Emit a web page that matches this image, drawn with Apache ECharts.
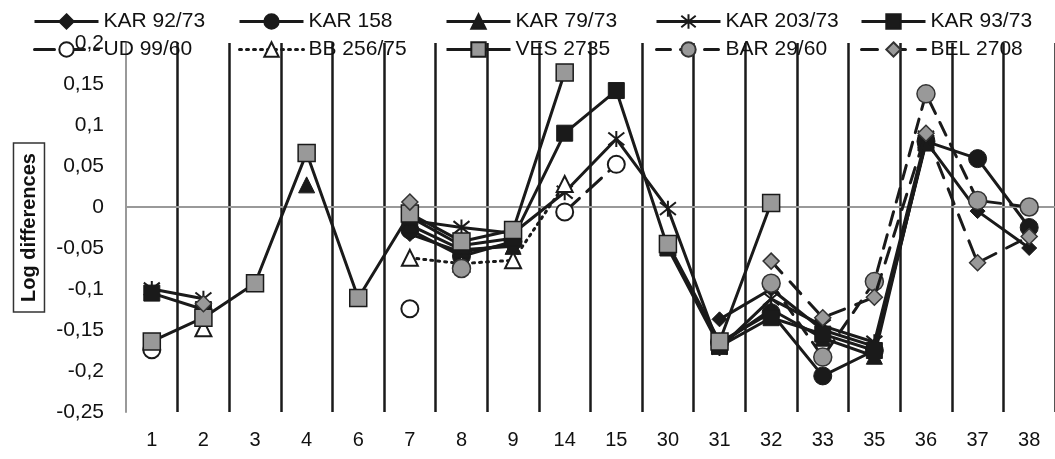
<!DOCTYPE html>
<html>
<head>
<meta charset="utf-8">
<script src="https://cdn.jsdelivr.net/npm/echarts@6/dist/echarts.min.js"></script>
<style>
html,body{margin:0;padding:0;background:#fff;}
#chart{width:1055px;height:459px;}
</style>
</head>
<body>
<div id="chart"></div>
<script>
// ---- data ----
const categories = ['1','2','3','4','6','7','8','9','14','15','30','31','32','33','35','36','37','38'];
const yTicks = {min: -0.25, max: 0.2, interval: 0.05};

const kar9273  = [null,null,null,null,null,-0.033,-0.055,-0.045,null,null,null,-0.137,-0.100,-0.150,-0.170,0.080,-0.005,-0.050];
const kar158   = [null,null,null,null,null,-0.028,-0.060,-0.042,null,null,null,-0.165,-0.129,-0.206,-0.175,0.080,0.059,-0.025];
const kar7973  = [null,null,null,0.027,null,-0.022,-0.052,-0.048,null,null,null,-0.168,-0.125,-0.160,-0.182,0.082,null,null];
const kar20373 = [-0.100,-0.112,null,null,null,-0.016,-0.025,-0.032,0.018,0.083,-0.002,-0.172,-0.112,-0.145,-0.165,0.085,null,null];
const kar9373  = [-0.105,-0.125,null,null,null,-0.012,-0.047,-0.038,0.090,0.142,-0.050,-0.170,-0.135,-0.155,-0.175,0.078,null,null];
const ud9960   = [-0.174,null,null,null,null,-0.124,null,null,-0.006,0.052,null,null,null,null,null,null,null,null];
const bb25675  = [null,-0.148,null,null,null,-0.062,-0.069,-0.065,0.028,null,null,null,null,null,null,null,null,null];
const ves2735  = [-0.164,-0.135,-0.093,0.066,-0.111,-0.008,-0.042,-0.028,0.164,null,-0.045,-0.164,0.005,null,null,null,null,null];
const bar2960  = [null,null,null,null,null,null,-0.075,null,null,null,null,null,-0.093,-0.183,-0.091,0.138,0.008,0.000];
const bel2708  = [null,-0.118,null,null,null,0.006,null,null,null,null,null,null,-0.066,-0.135,-0.110,0.090,-0.068,-0.036];

const seriesNames = ['KAR 92/73','KAR 158','KAR 79/73','KAR 203/73','KAR 93/73','UD 99/60','BB 256/75','VES 2735','BAR 29/60','BEL 2708'];
const seriesData = [kar9273,kar158,kar7973,kar20373,kar9373,ud9960,bb25675,ves2735,bar2960,bel2708];

// ---- styles ----
const DARK = '#1a1a1a', GRAY = '#999999';
const FONT = 'Liberation Sans, Arial, sans-serif';
const asterisk = 'path://M0,1L10,9M10,1L0,9M5,0L5,10';
const styles = [
  {symbol:'diamond', size:15, fill:DARK, border:DARK, type:'solid'},
  {symbol:'circle', size:18, fill:DARK, border:DARK, type:'solid'},
  {symbol:'triangle', size:16, fill:DARK, border:DARK, type:'solid'},
  {symbol:asterisk, size:16, fill:DARK, border:DARK, type:'solid', bw:2},
  {symbol:'rect', size:16, fill:DARK, border:DARK, type:'solid'},
  {symbol:'circle', size:17, fill:'#ffffff', border:DARK, type:[20,10], bw:2},
  {symbol:'triangle', size:16, fill:'#ffffff', border:DARK, type:[2,5], bw:2},
  {symbol:'rect', size:17, fill:GRAY, border:DARK, type:'solid', bw:1.5},
  {symbol:'circle', size:18, fill:GRAY, border:'#333', type:[14,10], bw:1.5},
  {symbol:'diamond', size:16, fill:GRAY, border:'#333', type:[16,12], bw:1.5}
];

const series = seriesNames.map((name, i) => {
  const s = styles[i];
  const o = {
    name: name,
    type: 'line',
    data: seriesData[i],
    connectNulls: false,
    symbol: s.symbol,
    symbolSize: s.size,
    showAllSymbol: true,
    itemStyle: {color: s.fill, borderColor: s.border, borderWidth: s.bw || 1, opacity: 1},
    lineStyle: {color: DARK, width: 3, type: s.type, cap: s.type === 'solid' ? 'butt' : 'round'},
    emphasis: {disabled: true},
    z: 3 + i
  };
  if (i === 0) {
    o.markLine = {
      silent: true, symbol: 'none', label: {show: false},
      lineStyle: {color: GRAY, width: 2, type: 'solid'},
      data: [{yAxis: 0}],
      animation: false
    };
  }
  return o;
});

const legendLefts = [33, 238, 445, 655, 860];
const legendTops = [11, 39];
const legends = seriesNames.map((name, i) => ({
  data: [name],
  left: legendLefts[i % 5],
  top: legendTops[Math.floor(i / 5)],
  itemWidth: 64,
  itemHeight: 18,
  itemGap: 0,
  selectedMode: false,
  padding: 0,
  lineStyle: {width: 3},
  textStyle: {fontSize: 21, color: '#111', fontFamily: FONT, padding: [0,0,0,0]}
}));

const chart = echarts.init(document.getElementById('chart'), null, {renderer: 'canvas'});
chart.setOption({
  animation: false,
  backgroundColor: '#ffffff',
  legend: legends,
  grid: {left: 126, top: 43, width: 930, bottom: 47, containLabel: false},
  xAxis: {
    type: 'category',
    data: categories,
    boundaryGap: true,
    axisLine: {show: false},
    axisTick: {show: false},
    axisLabel: {fontSize: 20, color: '#111', fontFamily: FONT, margin: 18, interval: 0},
    splitLine: {show: true, interval: (idx) => idx !== 0, lineStyle: {color: DARK, width: 2.5}}
  },
  yAxis: {
    type: 'value',
    min: yTicks.min, max: yTicks.max, interval: yTicks.interval,
    axisLine: {show: true, onZero: false, lineStyle: {color: GRAY, width: 2}},
    axisTick: {show: false},
    splitLine: {show: false},
    axisLabel: {
      fontSize: 21, color: '#111', fontFamily: FONT, margin: 22,
      formatter: v => String(Math.round(v * 100) / 100).replace('.', ',')
    },
    name: 'Log differences',
    nameLocation: 'middle',
    nameRotate: 90,
    nameGap: 81,
    nameTextStyle: {
      fontSize: 20, fontWeight: 'bold', color: '#111', fontFamily: FONT,
      borderColor: '#333', borderWidth: 1.5, padding: [6, 10, 5, 10]
    }
  },
  series: series
});
</script>
</body>
</html>
